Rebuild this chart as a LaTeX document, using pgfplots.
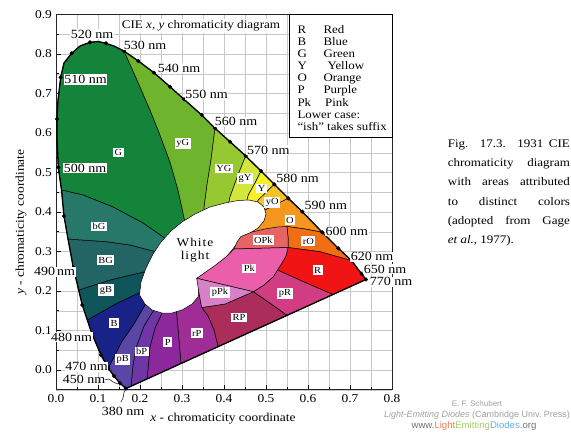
\documentclass[border=0pt]{standalone}
\usepackage{pgfplots}
\pgfplotsset{compat=1.18}
\usepackage{fontspec}
\setmainfont{Liberation Serif}[FakeStretch=1.12]
\setsansfont{Liberation Sans}
\definecolor{cG}{HTML}{13843A}
\definecolor{cyG}{HTML}{6EB42D}
\definecolor{cYG}{HTML}{96C832}
\definecolor{cgY}{HTML}{D2E63C}
\definecolor{cY}{HTML}{F5F028}
\definecolor{cyO}{HTML}{F5C328}
\definecolor{cO}{HTML}{F5961E}
\definecolor{crO}{HTML}{F06E14}
\definecolor{cR}{HTML}{F01414}
\definecolor{cOPk}{HTML}{E66464}
\definecolor{cPk}{HTML}{EB5FAA}
\definecolor{cpPk}{HTML}{D782C8}
\definecolor{cpR}{HTML}{D23C82}
\definecolor{cRP}{HTML}{AA2D5A}
\definecolor{crP}{HTML}{A02D96}
\definecolor{cP}{HTML}{8C289B}
\definecolor{cbP}{HTML}{6E37A5}
\definecolor{cpB}{HTML}{5A46A5}
\definecolor{cB}{HTML}{192387}
\definecolor{cgB}{HTML}{0F555A}
\definecolor{cBG}{HTML}{236464}
\definecolor{cbG}{HTML}{287869}
\begin{document}
\begin{tikzpicture}[x=1pt,y=1pt]
\path[use as bounding box] (0,0) rectangle (571,432);
\begin{axis}[
  at={(56pt,42.25pt)}, anchor=south west,
  scale only axis, width=336pt, height=375.25pt,
  xmin=0, xmax=0.8, ymin=-0.05, ymax=0.9,
  xtick={0,0.1,0.2,0.3,0.4,0.5,0.6,0.7,0.8},
  ytick={0,0.1,0.2,0.3,0.4,0.5,0.6,0.7,0.8,0.9},
  minor xtick={0.05,0.15,0.25,0.35,0.45,0.55,0.65,0.75},
  minor ytick={-0.05,0.05,0.15,0.25,0.35,0.45,0.55,0.65,0.75,0.85},
  grid=both,
  major grid style={draw=black!22,line width=0.5pt},
  minor grid style={draw=black!22,line width=0.5pt},
  tick align=inside, tick pos=left,
  major tick length=5pt, minor tick length=3pt,
  every tick/.style={black,line width=0.6pt},
  axis line style={line width=0.9pt,black!85},
  xticklabel style={font=\fontsize{12}{13}\selectfont, yshift=-1.5pt},
  yticklabel style={font=\fontsize{12}{13}\selectfont, xshift=-0.5pt},
  /pgf/number format/fixed, /pgf/number format/fixed zerofill,
  /pgf/number format/precision=1, /pgf/number format/assume math mode=true,
  no markers,
  every axis plot/.append style={line join=round},
]
% ---- outer regions (inner ends hidden by the white area) ----
\addplot[fill=cG, draw=black, line width=0.5pt] coordinates {
(0.0131,0.4557)(0.0055,0.5132)(0.0024,0.5823)(0.0024,0.6354)(0.0048,0.6835)(0.0112,0.7410)(0.0190,0.7772)(0.0374,0.8018)(0.0571,0.8203)(0.0810,0.8296)(0.1000,0.8316)(0.1190,0.8271)(0.1405,0.8190)(0.1619,0.8076)
(0.1929,0.7342)(0.2238,0.6582)(0.2476,0.5949)(0.2714,0.5266)(0.2905,0.4557)(0.3071,0.3747)(0.3238,0.3165)(0.2905,0.3038)(0.2595,0.3334)(0.2071,0.3722)(0.1357,0.4127)(0.0643,0.4430)} -- cycle;
\addplot[fill=cyG, draw=black, line width=0.5pt] coordinates {
(0.1619,0.8076)(0.1960,0.7823)(0.2333,0.7527)(0.2714,0.7172)(0.3048,0.6853)(0.3469,0.6456)(0.3786,0.6119)
(0.3690,0.5316)(0.3595,0.4684)(0.3524,0.4101)(0.3524,0.3291)(0.3238,0.3165)(0.3071,0.3747)(0.2905,0.4557)(0.2714,0.5266)(0.2476,0.5949)(0.2238,0.6582)(0.1929,0.7342)} -- cycle;
\addplot[fill=cYG, draw=black, line width=0.5pt] coordinates {
(0.3786,0.6119)(0.4143,0.5780)(0.4517,0.5418)(0.4333,0.4937)(0.4143,0.4380)(0.3952,0.3418)(0.3524,0.3291)(0.3524,0.4101)(0.3595,0.4684)(0.3690,0.5316)} -- cycle;
\addplot[fill=cgY, draw=black, line width=0.5pt] coordinates {
(0.4517,0.5418)(0.4881,0.5038)(0.4738,0.4734)(0.4579,0.4430)(0.4333,0.3418)(0.3952,0.3418)(0.4143,0.4380)(0.4333,0.4937)} -- cycle;
\addplot[fill=cY, draw=black, line width=0.5pt] coordinates {
(0.4881,0.5038)(0.5198,0.4701)(0.4817,0.4304)(0.4500,0.3544)(0.4333,0.3418)(0.4579,0.4430)(0.4738,0.4734)} -- cycle;
\addplot[fill=cyO, draw=black, line width=0.5pt] coordinates {
(0.5198,0.4701)(0.5531,0.4347)(0.4976,0.4051)(0.4619,0.3671)(0.4500,0.3544)(0.4817,0.4304)} -- cycle;
\addplot[fill=cO, draw=black, line width=0.5pt] coordinates {
(0.5531,0.4347)(0.5864,0.4008)(0.6340,0.3486)(0.5929,0.3570)(0.5500,0.3633)(0.5500,0.3291)(0.4500,0.3291)(0.4619,0.3671)(0.4976,0.4051)} -- cycle;
\addplot[fill=crO, draw=black, line width=0.5pt] coordinates {
(0.6340,0.3486)(0.6721,0.3081)(0.7040,0.2767)(0.6286,0.2995)(0.5524,0.3101)(0.5524,0.3367)(0.5500,0.3633)(0.5929,0.3570)} -- cycle;
\addplot[fill=cR, draw=black, line width=0.5pt] coordinates {
(0.7040,0.2767)(0.7279,0.2430)(0.7381,0.2291)(0.6595,0.1911)(0.5888,0.2235)(0.5274,0.2532)(0.5374,0.2701)(0.5476,0.2886)(0.5524,0.3101)(0.6286,0.2995)} -- cycle;
\addplot[fill=cpR, draw=black, line width=0.5pt] coordinates {
(0.5274,0.2532)(0.5888,0.2235)(0.6595,0.1911)(0.5500,0.1382)(0.5095,0.1689)(0.4698,0.1982)(0.4952,0.2152)(0.5174,0.2362)} -- cycle;
\addplot[fill=cRP, draw=black, line width=0.5pt] coordinates {
(0.3469,0.1582)(0.4024,0.1671)(0.4698,0.1982)(0.5095,0.1689)(0.5500,0.1382)(0.3857,0.0590)(0.3762,0.1013)(0.3619,0.1367)} -- cycle;
\addplot[fill=crP, draw=black, line width=0.5pt] coordinates {
(0.2976,0.0165)(0.3857,0.0590)(0.3762,0.1013)(0.3619,0.1367)(0.3469,0.1582)(0.3405,0.1949)(0.3190,0.2152)(0.2857,0.1899)(0.2869,0.1468)(0.2917,0.0886)} -- cycle;
\addplot[fill=cP, draw=black, line width=0.5pt] coordinates {
(0.2167,-0.0228)(0.2976,0.0165)(0.2917,0.0886)(0.2869,0.1468)(0.2857,0.1899)(0.2524,0.1899)(0.2524,0.1443)(0.2357,0.1063)(0.2238,0.0582)} -- cycle;
\addplot[fill=cbP, draw=black, line width=0.5pt] coordinates {
(0.1786,-0.0410)(0.2167,-0.0228)(0.2238,0.0582)(0.2357,0.1063)(0.2524,0.1443)(0.2524,0.1899)(0.2238,0.1899)(0.2321,0.1506)(0.2095,0.1114)(0.1905,0.0557)(0.1833,0.0127)} -- cycle;
\addplot[fill=cpB, draw=black, line width=0.5pt] coordinates {
(0.1245,0.0043)(0.1381,-0.0152)(0.1524,-0.0337)(0.1667,-0.0468)(0.1786,-0.0410)(0.1833,0.0127)(0.1905,0.0557)(0.2095,0.1114)(0.2321,0.1506)(0.2238,0.1899)(0.2119,0.1646)(0.1840,0.1139)(0.1564,0.0716)} -- cycle;
\addplot[fill=cB, draw=black, line width=0.5pt] coordinates {
(0.0745,0.1266)(0.0850,0.0929)(0.1071,0.0380)(0.1245,0.0043)(0.1564,0.0716)(0.1840,0.1139)(0.2119,0.1646)(0.2167,0.1899)(0.2071,0.2000)(0.1445,0.1689)} -- cycle;
\addplot[fill=cgB, draw=black, line width=0.5pt] coordinates {
(0.0540,0.2025)(0.0626,0.1646)(0.0745,0.1266)(0.1445,0.1689)(0.2071,0.2000)(0.2238,0.2278)(0.2119,0.2489)(0.1286,0.2278)} -- cycle;
\addplot[fill=cBG, draw=black, line width=0.5pt] coordinates {
(0.0286,0.3316)(0.0412,0.2590)(0.0540,0.2025)(0.1286,0.2278)(0.2119,0.2489)(0.2476,0.2658)(0.2357,0.3000)(0.1762,0.3165)(0.1207,0.3248)} -- cycle;
\addplot[fill=cbG, draw=black, line width=0.5pt] coordinates {
(0.0131,0.4557)(0.0190,0.3899)(0.0286,0.3316)(0.1207,0.3248)(0.1762,0.3165)(0.2357,0.3000)(0.2714,0.3038)(0.2595,0.3334)(0.2071,0.3722)(0.1357,0.4127)(0.0643,0.4430)} -- cycle;
% ---- white light area ----
\addplot[fill=white, draw=black, line width=0.5pt] coordinates {
(0.1988,0.1899)(0.2024,0.2228)(0.2143,0.2582)(0.2310,0.2937)(0.2500,0.3241)(0.2738,0.3519)(0.3000,0.3747)(0.3310,0.3949)(0.3667,0.4127)(0.4024,0.4228)(0.4333,0.4291)(0.4595,0.4304)(0.4810,0.4253)(0.4952,0.4127)(0.5000,0.3949)(0.4952,0.3772)(0.4810,0.3595)(0.4619,0.3468)(0.4381,0.3291)(0.4095,0.2911)(0.3714,0.2532)(0.3429,0.2228)(0.3381,0.1848)(0.3238,0.1671)(0.3000,0.1519)(0.2762,0.1443)(0.2524,0.1443)(0.2286,0.1519)(0.2119,0.1671)} -- cycle;
% ---- inner regions ----
\addplot[fill=cOPk, draw=black, line width=0.5pt] coordinates {
(0.4238,0.3063)(0.4310,0.3241)(0.4405,0.3380)(0.4667,0.3494)(0.4976,0.3570)(0.5262,0.3620)(0.5500,0.3633)(0.5524,0.3367)(0.5524,0.3101)} -- cycle;
\addplot[fill=cPk, draw=black, line width=0.5pt] coordinates {
(0.4238,0.3063)(0.5524,0.3101)(0.5476,0.2886)(0.5374,0.2701)(0.5274,0.2532)(0.5174,0.2362)(0.4952,0.2152)(0.4698,0.1982)(0.4024,0.2152)(0.3350,0.2322)(0.3738,0.2608)(0.4048,0.2861)} -- cycle;
\addplot[fill=cpPk, draw=black, line width=0.5pt] coordinates {
(0.3350,0.2322)(0.4024,0.2152)(0.4698,0.1982)(0.4024,0.1671)(0.3469,0.1582)(0.3405,0.1949)} -- cycle;
% ---- spectral locus and purple line ----
\addplot[draw=black, line width=1.3pt] coordinates {
(0.1667,-0.0468)(0.1524,-0.0337)(0.1381,-0.0152)(0.1245,0.0043)(0.1071,0.0380)(0.0850,0.0929)(0.0745,0.1266)(0.0626,0.1646)(0.0540,0.2025)(0.0412,0.2590)(0.0286,0.3316)(0.0190,0.3899)(0.0131,0.4557)(0.0055,0.5132)(0.0024,0.5823)(0.0024,0.6354)(0.0048,0.6835)(0.0112,0.7410)(0.0190,0.7772)(0.0374,0.8018)(0.0571,0.8203)(0.0810,0.8296)(0.1000,0.8316)(0.1190,0.8271)(0.1405,0.8190)(0.1619,0.8076)(0.1960,0.7823)(0.2333,0.7527)(0.2714,0.7172)(0.3048,0.6853)(0.3469,0.6456)(0.3786,0.6119)(0.4143,0.5780)(0.4517,0.5418)(0.4881,0.5038)(0.5198,0.4701)(0.5531,0.4347)(0.5864,0.4008)(0.6340,0.3486)(0.6721,0.3081)(0.7040,0.2767)(0.7279,0.2430)(0.7381,0.2291)} -- cycle;
\addplot[only marks, mark=*, mark size=1.9pt, black] coordinates {
(0.1667,-0.0468)(0.1524,-0.0337)(0.1381,-0.0152)(0.1245,0.0043)(0.1071,0.0380)(0.0850,0.0929)(0.0626,0.1646)(0.0412,0.2590)(0.0190,0.3899)(0.0055,0.5132)(0.0024,0.6354)(0.0112,0.7410)(0.0374,0.8018)(0.0810,0.8296)(0.1190,0.8271)(0.1619,0.8076)(0.1960,0.7823)(0.2333,0.7527)(0.2714,0.7172)(0.3048,0.6853)(0.3469,0.6456)(0.3786,0.6119)(0.4143,0.5780)(0.4517,0.5418)(0.4881,0.5038)(0.5198,0.4701)(0.5531,0.4347)(0.5864,0.4008)(0.6340,0.3486)(0.6721,0.3081)(0.7040,0.2767)(0.7279,0.2430)(0.7381,0.2291)};
% leader of 450 nm
\addplot[draw=black, line width=0.5pt, smooth] coordinates {(0.1167,-0.0253)(0.1262,-0.0228)(0.1357,-0.0304)(0.1476,-0.0354)};
\end{axis}
% leader of 380 nm (below the frame)
\draw[line width=0.5pt] (126,43) .. controls (122,39) and (125,35) .. (121,30);
% ---- wavelength labels ----
\begin{scope}[every node/.style={font=\fontsize{12.5}{13.5}\selectfont, fill=white, inner sep=0.8pt}]
\node at (92,398) {520 nm};
\node at (145,387) {530 nm};
\node at (179,364) {540 nm};
\node at (206.5,337.5) {550 nm};
\node at (236,310.3) {560 nm};
\node at (268.3,282) {570 nm};
\node at (297.5,253.7) {580 nm};
\node at (325.8,226.2) {590 nm};
\node at (346.7,200.8) {600 nm};
\node at (372,175.3) {620 nm};
\node at (385,162.7) {650 nm};
\node at (391,150.3) {770 nm};
\node at (85.5,352.5) {510 nm};
\node at (85,263.7) {500 nm};
\node at (54.5,160.3) {490\,nm};
\node at (71.5,94.7) {480\,nm};
\node at (86.5,65.3) {470 nm};
\node[fill=none] at (84,53) {450 nm};
\node[fill=none] at (123,20.3) {380 nm};
\end{scope}
% ---- region labels ----
\begin{scope}[every node/.style={font=\fontsize{9.3}{10}\selectfont, fill=white, inner sep=1.5pt}]
\node at (118.3,279.3) {G};
\node at (182.7,288.7) {yG};
\node at (224,263.7) {YG};
\node at (245,253.7) {gY};
\node at (261.7,243.7) {Y};
\node at (272.3,229.7) {yO};
\node at (290,212) {O};
\node at (308.3,191) {rO};
\node at (263.3,192) {OPk};
\node at (249.3,163.7) {Pk};
\node at (317.7,162) {R};
\node at (285,138.7) {pR};
\node at (220,139.3) {pPk};
\node at (239,114.3) {RP};
\node at (196.7,99) {rP};
\node at (167.7,90) {P};
\node at (141.7,80.3) {bP};
\node at (122.7,72.7) {pB};
\node at (114,109) {B};
\node at (106,142) {gB};
\node at (105.7,172) {BG};
\node at (99,205.3) {bG};
\end{scope}
\node[font=\fontsize{12}{13.5}\selectfont\addfontfeatures{LetterSpace=8}, align=center, inner sep=0pt] at (195,182) {White\\[-1pt]light};
% ---- title ----
\node[font=\fontsize{11.7}{13}\selectfont, fill=white, inner sep=1.5pt] at (201,406) {CIE \textit{x}, \textit{y} chromaticity diagram};
% ---- key box ----
\draw[fill=white, line width=0.8pt] (289.3,294.7) rectangle (392.3,417.6);
\begin{scope}[every node/.style={font=\fontsize{11.5}{12}\selectfont, inner sep=0pt, anchor=base west}]
\node at (297.3,398.5) {R}; \node at (323.3,398.5) {Red};
\node at (297.3,386.4) {B}; \node at (323.3,386.4) {Blue};
\node at (297.3,374.3) {G}; \node at (323.3,374.3) {Green};
\node at (297.3,362.2) {Y}; \node at (327.3,362.2) {Yellow};
\node at (297.3,350.1) {O}; \node at (323.3,350.1) {Orange};
\node at (297.3,338.0) {P}; \node at (323.3,338.0) {Purple};
\node at (297.3,325.9) {Pk}; \node at (325.0,325.9) {Pink};
\node at (297.3,313.8) {Lower case:};
\node at (297.3,301.7) {``ish'' takes suffix};
\end{scope}
% ---- axis titles ----
\node[font=\fontsize{12}{13}\selectfont] at (223,13) {\textit{x} - chromaticity coordinate};
\node[font=\fontsize{12}{13}\selectfont, rotate=90] at (21,210) {\textit{y} - chromaticity coordinate};
% ---- caption ----
\begin{scope}[every node/.style={font=\fontsize{11.6}{13}\selectfont, inner sep=0pt, anchor=base west}]
\node at (447.7,284.7) {\makebox[122pt][s]{Fig. 17.3. 1931 CIE}};
\node at (447.7,265.4) {\makebox[122pt][s]{chromaticity diagram}};
\node at (447.7,246.1) {\makebox[122pt][s]{with areas attributed}};
\node at (447.7,226.8) {\makebox[122pt][s]{to distinct colors}};
\node at (447.7,207.5) {\makebox[122pt][s]{(adopted from Gage}};
\node at (447.7,188.2) {\textit{et al.}, 1977).};
\end{scope}
% ---- credits ----
\definecolor{cred}{HTML}{A0A0A0}
\node[font=\sffamily\fontsize{8}{9}\selectfont, text=cred, anchor=base] at (477,26) {E.\ F.\ Schubert};
\node[font=\sffamily\fontsize{9}{10}\selectfont, text=cred, anchor=base] at (477,14.5) {\textit{Light-Emitting Diodes} (Cambridge Univ.\ Press)};
\node[font=\sffamily\fontsize{9.6}{10}\selectfont, anchor=base] at (474,3.5) {\textcolor{black!55}{www.}\textcolor[HTML]{F07850}{Light}\textcolor[HTML]{A0D060}{Emitting}\textcolor[HTML]{60B0E0}{Diodes}\textcolor{black!55}{.org}};
\end{tikzpicture}
\end{document}
